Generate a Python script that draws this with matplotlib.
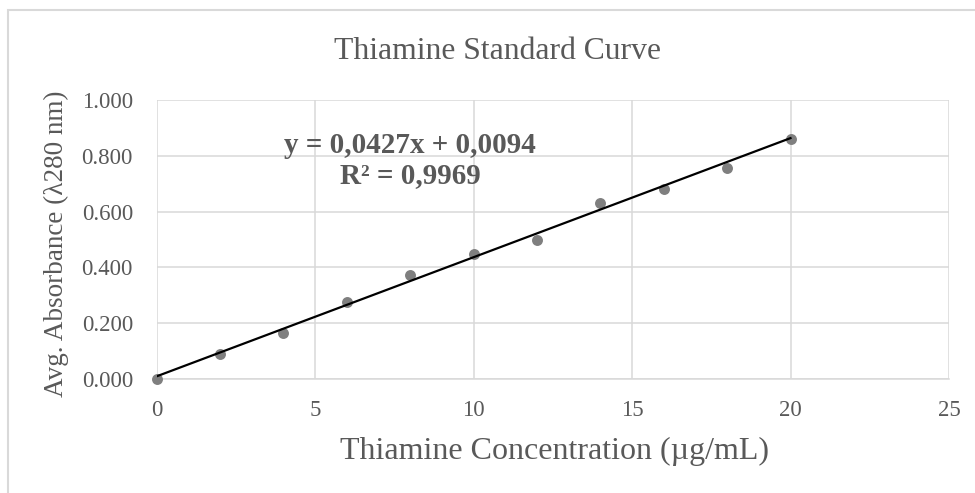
import matplotlib
matplotlib.use("Agg")
import matplotlib.pyplot as plt
from matplotlib.patches import Rectangle
import numpy as np

concentration = [0, 2, 4, 6, 8, 10, 12, 14, 16, 18, 20]
absorbance = [0.000, 0.088, 0.165, 0.276, 0.371, 0.449, 0.499, 0.631, 0.680, 0.758, 0.862]
slope = 0.0427
intercept = 0.0094
r_squared = 0.9969
x_ticks = [0, 5, 10, 15, 20, 25]
y_ticks = [0.0, 0.2, 0.4, 0.6, 0.8, 1.0]

plt.rcParams['font.family'] = ['Liberation Serif', 'DejaVu Serif']
txt = '#595959'
grid = '#d9d9d9'

W, H = 975, 493
fig = plt.figure(figsize=(W / 100, H / 100), dpi=100)
fig.patches.append(Rectangle((7.5 / W, -0.1), 1.2, (H - 10.5) / H + 0.1, transform=fig.transFigure,
                             fill=False, edgecolor=grid, linewidth=1.5))

ax_l, ax_r, ax_t, ax_b = 156.5, 949, 100, 379
ax = fig.add_axes([ax_l / W, (H - ax_b) / H, (ax_r - ax_l) / W, (ax_b - ax_t) / H])
ax.set_xlim(0, 25)
ax.set_ylim(0, 1.0)
ax.set_xticks(x_ticks)
ax.set_yticks(y_ticks)
ax.set_xticklabels([str(t) for t in x_ticks])
ax.set_yticklabels([f"{t:.3f}" for t in y_ticks])
ax.grid(True, color=grid, linewidth=1.1, zorder=0)
ax.set_axisbelow(True)
for s in ['top', 'right', 'left']:
    ax.spines[s].set_visible(False)
ax.spines['bottom'].set_color(grid)
ax.spines['bottom'].set_linewidth(1.1)
ax.tick_params(length=0, labelsize=16.5, labelcolor=txt)
ax.tick_params(axis='x', pad=15)
ax.tick_params(axis='y', pad=17)

ax.scatter(concentration, absorbance, s=62, color='#7f7f7f', zorder=3, clip_on=False, linewidths=0)
xf = np.array([concentration[0], concentration[-1]])
ax.plot(xf, slope * xf + intercept, color='black', linewidth=1.6, zorder=4)

ax.set_xlabel("Thiamine Concentration (µg/mL)", fontsize=23, color=txt, va='baseline')
ax.xaxis.set_label_coords((555 - ax_l) / (ax_r - ax_l), (ax_b - 459) / (ax_b - ax_t))
ax.set_ylabel("Avg. Absorbance (λ280 nm)", fontsize=19.5, color=txt, va='baseline')
ax.yaxis.set_label_coords((63 - ax_l) / (ax_r - ax_l), (ax_b - 244) / (ax_b - ax_t))

fig.text(497 / W, 1 - 59.3 / H, "Thiamine Standard Curve", ha='center', va='baseline',
         fontsize=22.8, color=txt)

fig.text(410 / W, 1 - 153 / H, f"y = {slope:.4f}x + {intercept:.4f}".replace('.', ','),
         ha='center', va='baseline', fontsize=21, fontweight='bold', color=txt)
fig.text(410 / W, 1 - 183 / H, f"R² = {r_squared:.4f}".replace('.', ','), ha='center', va='baseline',
         fontsize=21, fontweight='bold', color=txt)

fig.savefig("out.png", dpi=100)
